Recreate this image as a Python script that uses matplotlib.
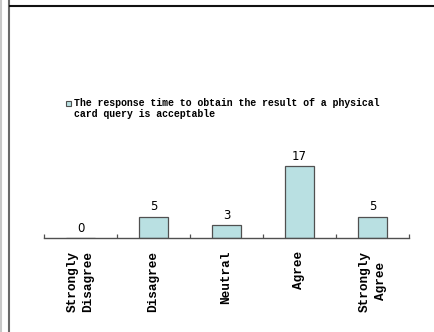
import matplotlib
matplotlib.use('Agg')
import matplotlib.pyplot as plt
from matplotlib.lines import Line2D
from matplotlib.patches import Rectangle

# survey answers
categories = ['Strongly\nDisagree', 'Disagree', 'Neutral', 'Agree', 'Strongly\nAgree']
counts = [0, 5, 3, 17, 5]
series_name = 'The response time to obtain the result of a physical\ncard query is acceptable'

W, H = 435, 332
bar_color = '#b9e0e2'
edge_color = '#505050'
mono = 'Liberation Mono'

fig = plt.figure(figsize=(W / 100, H / 100), dpi=100)

# window frame lines
fig.add_artist(Line2D([1.5 / W, 1.5 / W], [0, 1], color='#c8c8c8', lw=1.5))
fig.add_artist(Line2D([9.5 / W, 9.5 / W], [0, 1], color='#6a6a6a', lw=1.5))
fig.add_artist(Line2D([10 / W, 1], [1 - 6 / H, 1 - 6 / H], color='#111111', lw=1.5))

ax = fig.add_axes([44 / W, 1 - 238 / H, 365 / W, 169 / H])
x = range(len(categories))
bars = ax.bar(x, counts, width=0.4, color=bar_color, edgecolor=edge_color, linewidth=0.9)
ax.set_xlim(-0.5, len(categories) - 0.5)
ax.set_ylim(0, 40)

for spine in ['top', 'right', 'left']:
    ax.spines[spine].set_visible(False)
ax.spines['bottom'].set_color(edge_color)
ax.spines['bottom'].set_linewidth(1.0)
ax.set_yticks([])

ax.set_xticks(list(x))
ax.set_xticklabels([])
ax.tick_params(axis='x', which='major', length=0)
ax.set_xticks([i - 0.5 for i in range(len(categories) + 1)], minor=True)
ax.tick_params(axis='x', which='minor', direction='in', length=3, color=edge_color, width=0.9)

for i, v in enumerate(counts):
    ax.annotate(str(v), (i, v), xytext=(0, 2.5), textcoords='offset points',
                ha='center', va='bottom', fontsize=8.5, family='DejaVu Sans')

# category names, rotated, hanging below the axis
for i, name in enumerate(categories):
    ax.annotate(name, (i, 0), xytext=(0, -9), textcoords='offset points',
                rotation=90, ha='center', va='top', multialignment='center',
                fontsize=9.2, family=mono, fontweight='bold', linespacing=1.45)

# legend
fig.add_artist(Rectangle((66 / W, 1 - 106 / H), 5.5 / W, 5 / H, facecolor=bar_color,
                         edgecolor=edge_color, linewidth=0.8, transform=fig.transFigure))
fig.text(74 / W, 1 - 98 / H, series_name, ha='left', va='top', fontsize=7.1,
         family=mono, fontweight='bold', linespacing=1.15)

fig.savefig('out.png', dpi=100, facecolor='white')
